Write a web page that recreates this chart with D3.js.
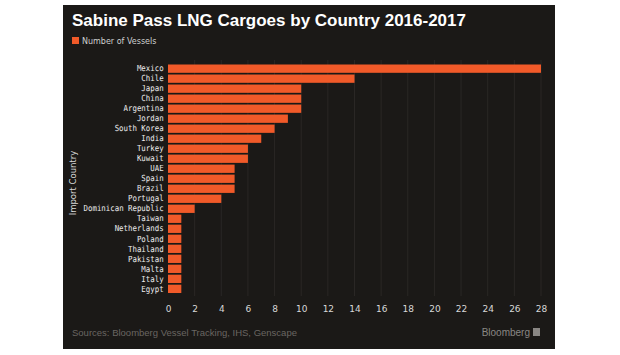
<!DOCTYPE html>
<html><head><meta charset="utf-8">
<script src="https://cdn.jsdelivr.net/npm/d3@7"></script>
<style>body{margin:0;background:#fff}svg{display:block}</style>
</head><body>
<svg id="c" width="620" height="355"></svg>
<script>
const countries = ["Mexico","Chile","Japan","China","Argentina","Jordan","South Korea","India","Turkey","Kuwait","UAE","Spain","Brazil","Portugal","Dominican Republic","Taiwan","Netherlands","Poland","Thailand","Pakistan","Malta","Italy","Egypt"];
const vessels = [28,14,10,10,10,9,8,7,6,6,5,5,5,4,2,1,1,1,1,1,1,1,1];
const xTicks = [0,2,4,6,8,10,12,14,16,18,20,22,24,26,28];
const title = "Sabine Pass LNG Cargoes by Country 2016-2017";
const legendLabel = "Number of Vessels";
const yTitle = "Import Country";
const source = "Sources: Bloomberg Vessel Tracking, IHS, Genscape";

const svg = d3.select("#c");
svg.append("rect").attr("x",63).attr("y",5).attr("width",492).attr("height",344).attr("fill","#1b1917");

const x = d3.scaleLinear().domain([0,28]).range([168,541]);
const y = d3.scaleBand().domain(countries).range([63.5,294]).paddingInner(0.17).paddingOuter(0.1);

svg.append("g").selectAll("line").data(xTicks.slice(1)).join("line")
  .attr("x1",d=>x(d)).attr("x2",d=>x(d)).attr("y1",60).attr("y2",296)
  .attr("stroke","#2a2725").attr("stroke-width",1);

svg.append("g").selectAll("rect").data(countries).join("rect")
  .attr("x",x(0)).attr("y",d=>y(d))
  .attr("width",(d,i)=>x(vessels[i])-x(0)).attr("height",y.bandwidth())
  .attr("fill","#f15a29");

const yAxis = svg.append("g").attr("transform",`translate(${x(0)},0)`)
  .call(d3.axisLeft(y).tickSize(0).tickPadding(5));
yAxis.select(".domain").remove();
yAxis.selectAll("text").attr("fill","#ececec").attr("font-family","'DejaVu Sans Mono', monospace").attr("font-size","8.4px")
  .attr("transform","scale(0.88,1)");

const xAxis = svg.append("g").attr("transform","translate(0,303)")
  .call(d3.axisBottom(x).tickValues(xTicks).tickSize(0).tickPadding(3));
xAxis.select(".domain").remove();
xAxis.selectAll("text").attr("fill","#d8d8d8").attr("font-family","'DejaVu Sans', sans-serif").attr("font-size","9px");

svg.append("text").attr("x",72).attr("y",26).text(title)
  .attr("fill","#fff").attr("font-family","'Liberation Sans', Arial, sans-serif").attr("font-weight","bold").attr("font-size","17px");

svg.append("rect").attr("x",72).attr("y",37).attr("width",7).attr("height",7).attr("fill","#f15a29");
svg.append("text").attr("x",82).attr("y",44).text(legendLabel)
  .attr("fill","#cfcfcf").attr("font-family","'DejaVu Sans', sans-serif").attr("font-size","8px");

svg.append("text").attr("transform","translate(76,183) rotate(-90)").attr("text-anchor","middle").text(yTitle)
  .attr("fill","#d8d8d8").attr("font-family","'DejaVu Sans', sans-serif").attr("font-size","8.5px");

svg.append("text").attr("x",72).attr("y",336).text(source)
  .attr("fill","#6a6662").attr("font-family","'Liberation Sans', Arial, sans-serif").attr("font-size","9.5px");

svg.append("text").attr("x",530).attr("y",336).attr("text-anchor","end").text("Bloomberg")
  .attr("fill","#8a8784").attr("font-family","'Liberation Sans', Arial, sans-serif").attr("font-size","10px");
svg.append("rect").attr("x",533).attr("y",328).attr("width",7).attr("height",8).attr("fill","#8a8784");
</script>
</body></html>
